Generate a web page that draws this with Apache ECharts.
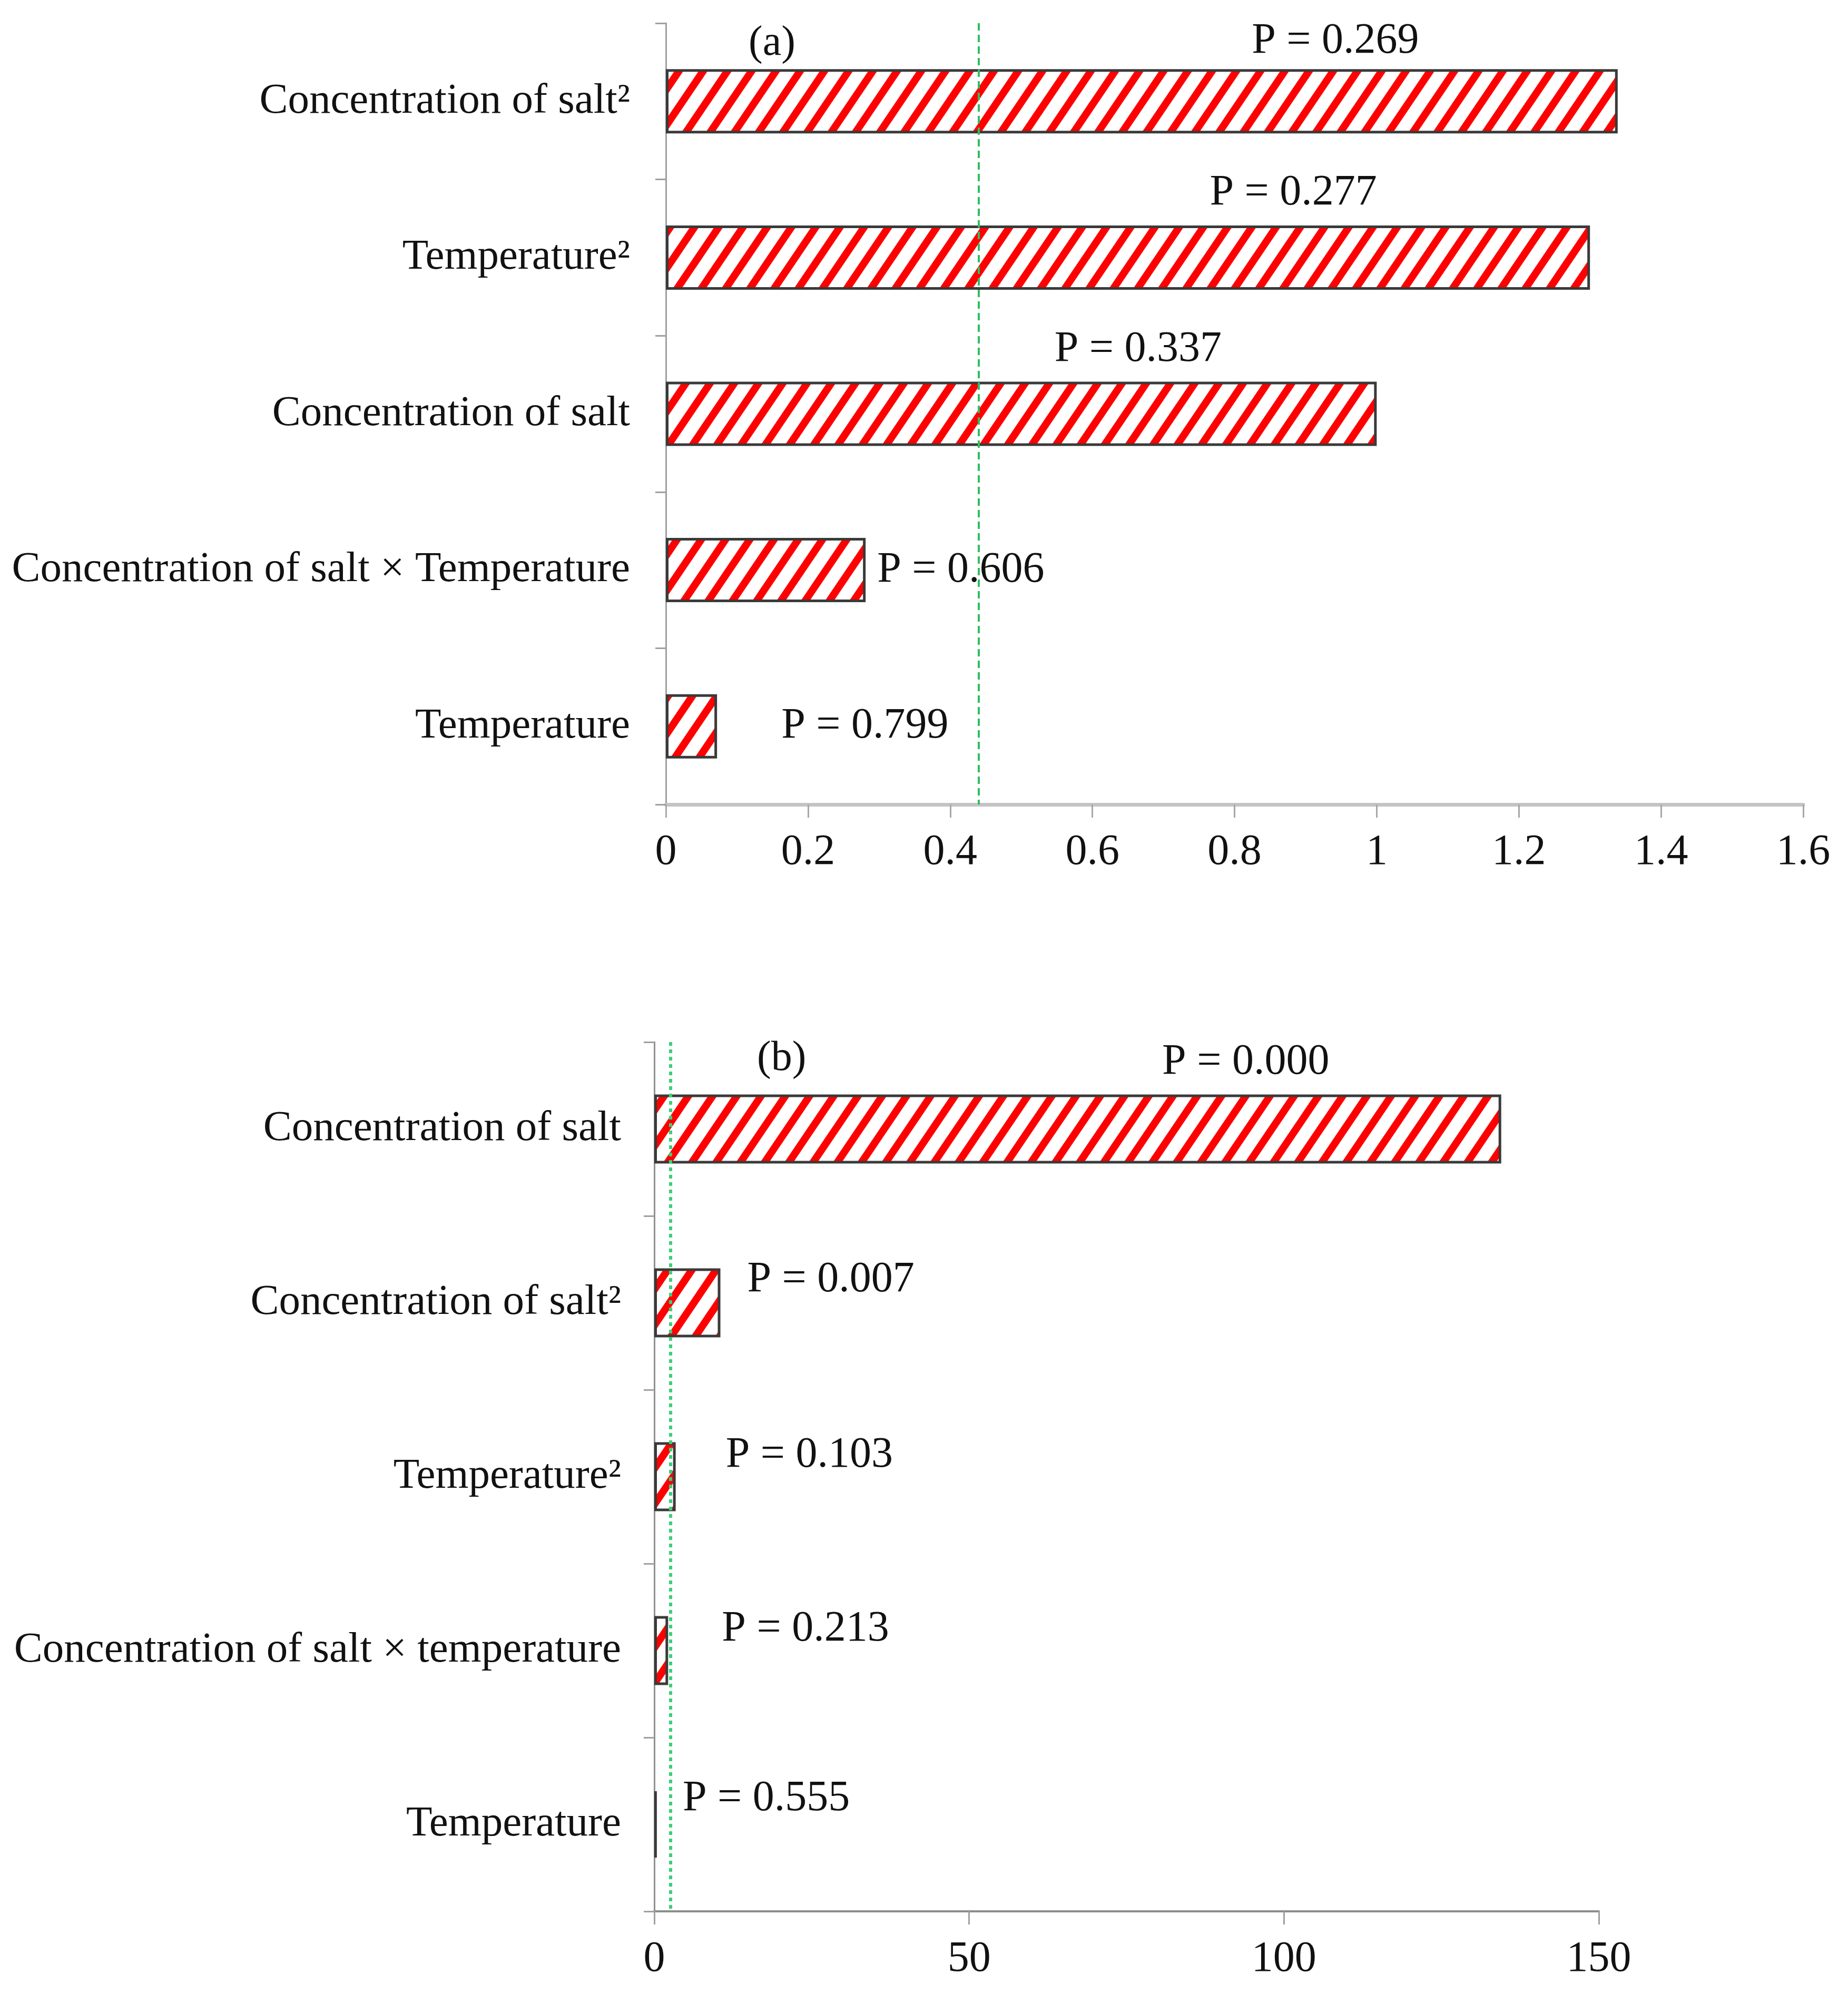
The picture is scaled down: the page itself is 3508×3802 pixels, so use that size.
<!DOCTYPE html>
<html>
<head>
<meta charset="utf-8">
<script src="https://cdn.jsdelivr.net/npm/echarts@6/dist/echarts.min.js"></script>
<style>
  html, body { margin: 0; padding: 0; background: #fff; }
  #chart { width: 3508px; height: 3802px; }
</style>
</head>
<body>
<div id="chart"></div>
<script>
// ---------- DATA ----------
const categoriesA = ['Concentration of salt\u00B2', 'Temperature\u00B2', 'Concentration of salt', 'Concentration of salt \u00D7 Temperature', 'Temperature'];
const valuesA = [1.339, 1.300, 1.000, 0.281, 0.072];
const pLabelsA = ['P = 0.269', 'P = 0.277', 'P = 0.337', 'P = 0.606', 'P = 0.799'];
const limitA = 0.436;
const xTicksA = { min: 0, max: 1.6, interval: 0.2 };

const categoriesB = ['Concentration of salt', 'Concentration of salt\u00B2', 'Temperature\u00B2', 'Concentration of salt \u00D7 temperature', 'Temperature'];
const valuesB = [134.5, 10.5, 3.4, 2.2, 0.4];
const pLabelsB = ['P = 0.000', 'P = 0.007', 'P = 0.103', 'P = 0.213', 'P = 0.555'];
const limitB = 2.6;
const xTicksB = { min: 0, max: 150, interval: 50 };

// ---------- STYLE (label placement relative to bar end) ----------
const labelPlaceA = [
  { align: 'center', offset: [-536, -114] },
  { align: 'center', offset: [-563, -122] },
  { align: 'center', offset: [-453, -122] },
  { align: 'left', offset: [22, 0] },
  { align: 'left', offset: [122, 0] }
];
const labelPlaceB = [
  { align: 'center', offset: [-485, -127] },
  { align: 'left', offset: [51, -44] },
  { align: 'left', offset: [95, -41] },
  { align: 'left', offset: [102, -41] },
  { align: 'left', offset: [49, -49] }
];

const FONT = 'Liberation Serif';
const TXT = '#111';

// Hatch pattern: red upward diagonal stripes on white (seamless tile)
function makeHatch() {
  const W = 46, H = 68;
  const c = document.createElement('canvas');
  c.width = W; c.height = H;
  const g = c.getContext('2d');
  g.fillStyle = '#ffffff';
  g.fillRect(0, 0, W, H);
  g.strokeStyle = '#ff0000';
  g.lineWidth = 14;
  for (let k = -2; k <= 2; k++) {
    g.beginPath();
    g.moveTo(k * W - W, 2 * H);
    g.lineTo(k * W + 2 * W, -H);
    g.stroke();
  }
  return { image: c, repeat: 'repeat' };
}
const hatch = makeHatch();

function buildData(values, labels, places) {
  return values.map((v, i) => ({
    value: v,
    label: {
      show: true,
      position: 'right',
      distance: 0,
      formatter: labels[i],
      align: places[i].align,
      verticalAlign: 'middle',
      offset: places[i].offset
    }
  }));
}

const chart = echarts.init(document.getElementById('chart'), null, { renderer: 'canvas' });

const labelText = { fontFamily: FONT, fontSize: 82, color: TXT };

const option = {
  backgroundColor: '#ffffff',
  animation: false,
  title: [
    { text: '(a)', left: 1416, top: 38, textStyle: { fontFamily: FONT, fontSize: 80, fontWeight: 'normal', color: TXT } },
    { text: '(b)', left: 1432, top: 1965, textStyle: { fontFamily: FONT, fontSize: 80, fontWeight: 'normal', color: TXT } }
  ],
  grid: [
    { left: 1264, right: 85, top: 44, height: 1483, containLabel: false },
    { left: 1242, right: 473, top: 1978, height: 1650, containLabel: false }
  ],
  xAxis: [
    {
      gridIndex: 0, type: 'value', min: xTicksA.min, max: xTicksA.max, interval: xTicksA.interval,
      axisLine: { show: true, lineStyle: { color: '#c4c4c4', width: 7 } },
      axisTick: { show: true, length: 25, lineStyle: { color: '#a8a8a8', width: 3 } },
      axisLabel: { margin: 50, fontFamily: FONT, fontSize: 82, color: TXT },
      splitLine: { show: false }
    },
    {
      gridIndex: 1, type: 'value', min: xTicksB.min, max: xTicksB.max, interval: xTicksB.interval,
      axisLine: { show: true, lineStyle: { color: '#8c8c8c', width: 4 } },
      axisTick: { show: true, length: 25, lineStyle: { color: '#a0a0a0', width: 3 } },
      axisLabel: { margin: 50, fontFamily: FONT, fontSize: 82, color: TXT },
      splitLine: { show: false }
    }
  ],
  yAxis: [
    {
      gridIndex: 0, type: 'category', inverse: true, data: categoriesA,
      axisLine: { show: true, lineStyle: { color: '#a0a0a0', width: 3 } },
      axisTick: { show: true, length: 20, lineStyle: { color: '#a0a0a0', width: 3 } },
      axisLabel: { margin: 68, fontFamily: FONT, fontSize: 81, color: TXT }
    },
    {
      gridIndex: 1, type: 'category', inverse: true, data: categoriesB,
      axisLine: { show: true, lineStyle: { color: '#909090', width: 3 } },
      axisTick: { show: true, length: 20, lineStyle: { color: '#a0a0a0', width: 3 } },
      axisLabel: { margin: 63, fontFamily: FONT, fontSize: 81, color: TXT }
    }
  ],
  series: [
    {
      type: 'bar', xAxisIndex: 0, yAxisIndex: 0, barWidth: 122,
      data: buildData(valuesA, pLabelsA, labelPlaceA),
      itemStyle: { color: hatch, borderColor: '#3a3a3a', borderWidth: 5 },
      label: labelText,
      markLine: {
        silent: true, symbol: 'none', label: { show: false },
        lineStyle: { color: '#2fbf5f', type: [14, 8], width: 4 },
        data: [{ xAxis: limitA }]
      }
    },
    {
      type: 'bar', xAxisIndex: 1, yAxisIndex: 1, barWidth: 131,
      data: buildData(valuesB, pLabelsB, labelPlaceB),
      itemStyle: { color: hatch, borderColor: '#3a3a3a', borderWidth: 5 },
      label: labelText,
      markLine: {
        silent: true, symbol: 'none', label: { show: false },
        lineStyle: { color: '#3ccf78', type: [7, 7], width: 6 },
        data: [{ xAxis: limitB }]
      }
    }
  ]
};

chart.setOption(option);
</script>
</body>
</html>
